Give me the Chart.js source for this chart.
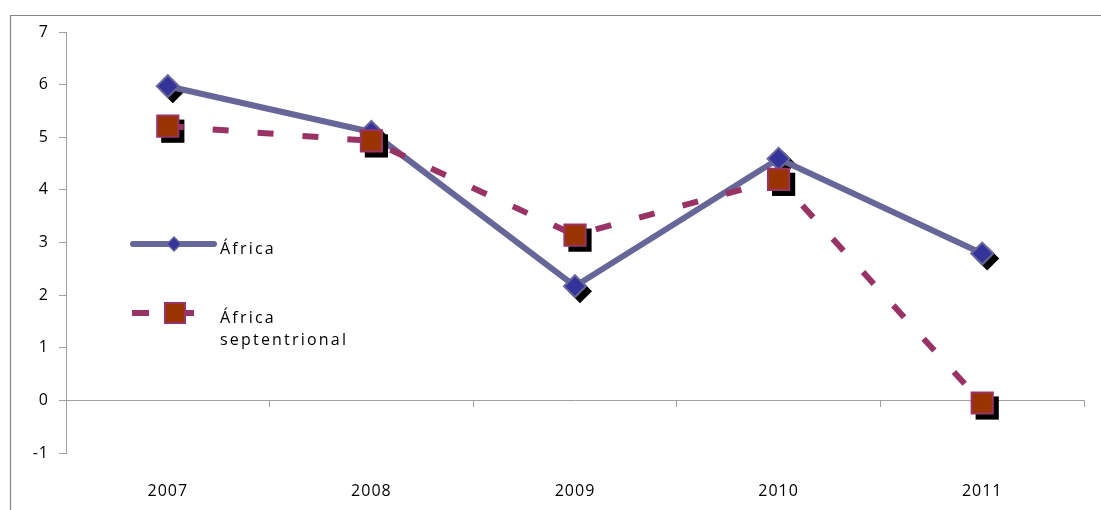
<!DOCTYPE html>
<html>
<head>
<meta charset="utf-8">
<script src="https://cdn.jsdelivr.net/npm/chart.js@4/dist/chart.umd.min.js"></script>
<style>
	body { margin:0; background:#fff; }
	#wrap { position:relative; width:1101px; height:510px; }
</style>
</head>
<body>
<div id="wrap"><canvas id="chart" width="1101" height="510"></canvas></div>
<script>
var years = ['2007','2008','2009','2010','2011'];
var africa = [5.97, 5.10, 2.17, 4.59, 2.79];
var africaNorte = [5.21, 4.93, 3.14, 4.20, -0.05];
var yMin = -1, yMax = 7;

var fontFamily = '"Open Sans", sans-serif';
var spacing = '1px';

// frame + letter spacing (canvas state is reset on resize, so set it each draw)
var framePlugin = {
	id:'frame',
	beforeDraw:function(chart)
	{
		var ctx = chart.ctx;
		ctx.letterSpacing = spacing;
		ctx.save();
		ctx.strokeStyle = '#858585';
		ctx.lineWidth = 1.2;
		ctx.beginPath();
		ctx.moveTo(10.5, 510);
		ctx.lineTo(10.5, 15.5);
		ctx.lineTo(1101, 15.5);
		ctx.stroke();
		ctx.restore();
	}
};

// black drop shadow under each marker, drawn from the element positions
var shadowPlugin = {
	id:'markerShadow',
	beforeDatasetDraw:function(chart, args)
	{
		var ds = chart.data.datasets[args.index];
		var ctx = chart.ctx;
		ctx.save();
		ctx.fillStyle = '#000';
		args.meta.data.forEach(function(pt)
		{
			var x = pt.x + 5, y = pt.y + 5;
			var r = ds.pointRadius + ds.pointBorderWidth / 2;
			ctx.beginPath();
			if( ds.pointStyle == 'rectRot' )
			{
				ctx.moveTo(x - r, y);
				ctx.lineTo(x, y - r);
				ctx.lineTo(x + r, y);
				ctx.lineTo(x, y + r);
			}
			else
			{
				var s = Math.SQRT1_2 * ds.pointRadius + ds.pointBorderWidth / 2;
				ctx.rect(x - s, y - s, 2 * s, 2 * s);
			}
			ctx.closePath();
			ctx.fill();
		});
		ctx.restore();
	}
};

// legend placed inside the plot, as in the original
var legendPlugin = {
	id:'insideLegend',
	afterDraw:function(chart)
	{
		var ctx = chart.ctx;
		ctx.save();
		// África
		ctx.strokeStyle = '#666699';
		ctx.lineWidth = 6;
		ctx.lineCap = 'round';
		ctx.beginPath();
		ctx.moveTo(133, 244);
		ctx.lineTo(214, 244);
		ctx.stroke();
		ctx.fillStyle = '#333399';
		ctx.lineWidth = 1.5;
		ctx.beginPath();
		ctx.moveTo(167, 244); ctx.lineTo(174, 237); ctx.lineTo(181, 244); ctx.lineTo(174, 251);
		ctx.closePath();
		ctx.fill(); ctx.stroke();
		// África septentrional
		ctx.strokeStyle = '#993366';
		ctx.lineWidth = 6;
		ctx.lineCap = 'butt';
		ctx.beginPath();
		ctx.moveTo(132, 313); ctx.lineTo(149, 313);
		ctx.moveTo(184, 313); ctx.lineTo(194, 313);
		ctx.stroke();
		ctx.fillStyle = '#993300';
		ctx.lineWidth = 2;
		ctx.fillRect(165, 303, 20, 20);
		ctx.strokeRect(165, 303, 20, 20);
		// labels
		ctx.letterSpacing = '2.2px';
		ctx.fillStyle = '#000';
		ctx.font = '16px ' + fontFamily;
		ctx.textBaseline = 'alphabetic';
		ctx.textAlign = 'left';
		ctx.fillText('África', 220, 254);
		ctx.fillText('África', 220, 323);
		ctx.fillText('septentrional', 220, 345);
		ctx.restore();
	}
};

var chart = new Chart
(
	document.getElementById('chart').getContext('2d'),
	{
		type:'line',
		data:{
			labels:years,
			datasets:[
				{
					label:'África',
					data:africa,
					order:2,
					borderColor:'#666699',
					borderWidth:6,
					borderCapStyle:'round',
					borderJoinStyle:'round',
					pointStyle:'rectRot',
					pointRadius:11,
					pointBorderWidth:2,
					pointBackgroundColor:'#333399',
					pointBorderColor:'#666699',
					fill:false,
					tension:0
				},
				{
					label:'África septentrional',
					data:africaNorte,
					order:1,
					borderColor:'#993366',
					borderWidth:6,
					borderDash:[16, 29],
					pointStyle:'rect',
					pointRadius:15,
					pointBorderWidth:2,
					pointBackgroundColor:'#993300',
					pointBorderColor:'#993366',
					fill:false,
					tension:0
				}
			]
		},
		options:{
			responsive:false,
			animation:false,
			events:[],
			layout:{ padding:{ left:10, top:32, right:15, bottom:0 } },
			plugins:{ legend:{ display:false }, tooltip:{ enabled:false } },
			scales:{
				y:{
					min:yMin,
					max:yMax,
					ticks:{ stepSize:1, color:'#000', padding:10, font:{ family:fontFamily, size:16 } },
					grid:{ drawOnChartArea:false, drawTicks:true, tickLength:7, color:'#a0a0a0', lineWidth:1 },
					border:{ color:'#a0a0a0', width:1 },
					afterFit:function(scale){ scale.width = 56; }
				},
				x:{
					axis:'x',
					type:'category',
					position:{ y:0 },
					offset:true,
					ticks:{ display:false },
					grid:{ offset:true, drawOnChartArea:false, drawTicks:true, tickLength:6, color:'#a0a0a0', lineWidth:1 },
					border:{ color:'#a0a0a0', width:1 }
				},
				x2:{
					axis:'x',
					type:'category',
					position:'bottom',
					offset:true,
					grid:{ display:false },
					border:{ display:false },
					ticks:{ color:'#000', padding:21, font:{ family:fontFamily, size:16 } },
					afterFit:function(scale){ scale.height = 57; }
				}
			}
		},
		plugins:[framePlugin, shadowPlugin, legendPlugin]
	}
);
</script>
</body>
</html>
